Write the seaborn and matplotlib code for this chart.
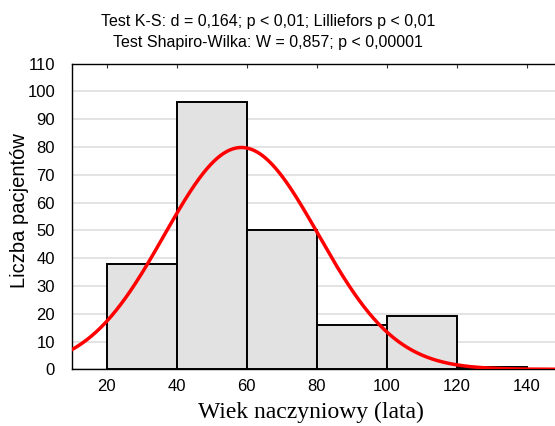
import numpy as np
import pandas as pd
import matplotlib
matplotlib.use("Agg")
import matplotlib.pyplot as plt
import seaborn as sns

# Data
bin_edges = [20, 40, 60, 80, 100, 120, 140]
bin_centers = [30, 50, 70, 90, 110, 130]
counts = [38, 96, 50, 16, 19, 1]
fit_mean = 58.5
fit_sd = 22.0
x_ticks = [20, 40, 60, 80, 100, 120, 140]
y_ticks = [0, 10, 20, 30, 40, 50, 60, 70, 80, 90, 100, 110]
title_lines = ["Test K-S: d = 0,164; p < 0,01; Lilliefors p < 0,01",
               "Test Shapiro-Wilka: W = 0,857; p < 0,00001"]
x_label = "Wiek naczyniowy (lata)"
y_label = "Liczba pacjentów"

sns.set_theme(style="white")
plt.rcParams['font.family'] = ['Liberation Sans', 'DejaVu Sans']

W, H = 555, 426
fig = plt.figure(figsize=(W / 100, H / 100), dpi=100)
ax = fig.add_axes([71.7 / W, (H - 369.3) / H, 490 / W, (369.3 - 63.5) / H])

df = pd.DataFrame({"age": bin_centers, "n": counts})
sns.histplot(data=df, x="age", weights="n", bins=bin_edges, ax=ax,
             color="#e2e2e2", edgecolor="black", linewidth=1.4, alpha=1, zorder=2)

n_total = sum(counts)
bw = bin_edges[1] - bin_edges[0]
xs = np.linspace(10, 150, 400)
ys = n_total * bw / (fit_sd * np.sqrt(2 * np.pi)) * np.exp(-(xs - fit_mean) ** 2 / (2 * fit_sd ** 2))
sns.lineplot(x=xs, y=ys, ax=ax, color="#ff0000", linewidth=2.5, zorder=3)

ax.set_xlim(10, 150)
ax.set_ylim(0, 110)
ax.set_xticks(x_ticks)
ax.set_yticks(y_ticks)
ax.yaxis.grid(True, color="#e0e0e0", linewidth=1.3, zorder=0)
ax.xaxis.grid(False)
ax.set_axisbelow(True)

for s in ["left", "top", "bottom"]:
    ax.spines[s].set_visible(True)
    ax.spines[s].set_color("black")
    ax.spines[s].set_linewidth(1.0)
ax.spines["right"].set_visible(False)

ax.tick_params(axis="x", bottom=False, top=True, labelbottom=True, labeltop=False,
               direction="in", length=3, width=0.8, color="#333333", labelsize=12, pad=7)
ax.tick_params(axis="y", left=False, labelsize=12, pad=6, labelcolor="black")
ax.tick_params(axis="x", labelcolor="black")

ax.set_xlabel(x_label, family=["Liberation Serif", "DejaVu Serif"], fontsize=17, color="black")
ax.xaxis.set_label_coords((311 - 71.7) / 490, -(412 - 369.3) / 305.8)
ax.xaxis.label.set_va("center")
ax.set_ylabel(y_label, fontsize=14.5, color="black")
ax.yaxis.set_label_coords((20 - 71.7) / 490, (369.3 - 210.5) / 305.8)
ax.yaxis.label.set_va("center")

fig.text(268 / W, 1 - 21.7 / H, title_lines[0], ha="center", va="center", fontsize=11.5, color="black")
fig.text(268 / W, 1 - 43 / H, title_lines[1], ha="center", va="center", fontsize=11.5, color="black")

fig.savefig("out.png", dpi=100)
